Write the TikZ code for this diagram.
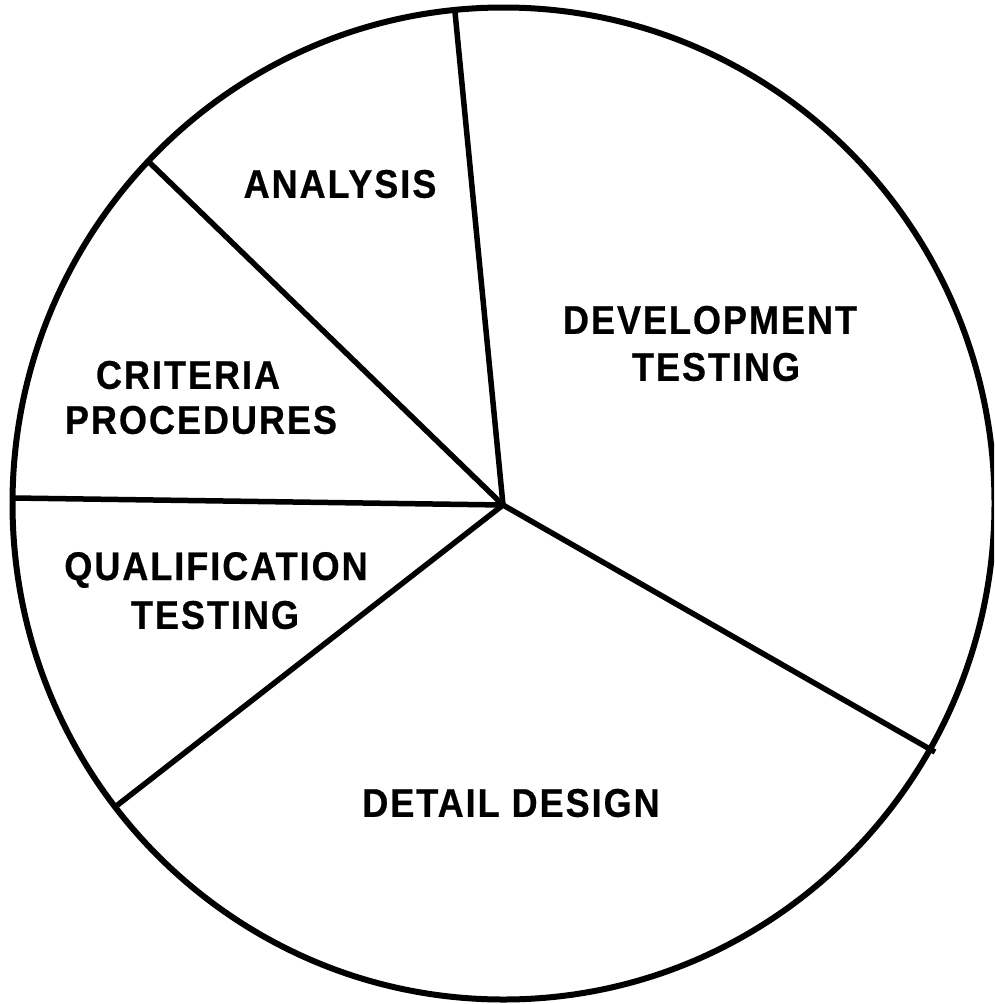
\documentclass[tikz,border=0pt]{standalone}
\usepackage{fontspec}
\setmainfont{Liberation Sans}
\newfontfamily\labelfont[FakeStretch=0.9,LetterSpace=5,FakeBold=0.6]{Liberation Sans Bold}
\begin{document}
\begin{tikzpicture}[x=1pt,y=-1pt,
  edge/.style={line width=5.5pt},
  rim/.style={line width=6pt},
  lbl/.style={font=\labelfont\fontsize{40}{46}\selectfont, inner sep=0pt}]
\useasboundingbox (0,0) rectangle (994,1004);
\clip (0,0) rectangle (994,1004);
\coordinate (c) at (503,505);
\coordinate (p1) at (455,12);
\coordinate (p2) at (150,163);
\coordinate (p3) at (14,498);
\coordinate (p4) at (115,807);
\coordinate (p5) at (935,752);
\draw[rim] (503.5,503.5) ellipse [x radius=491, y radius=496];
\draw[edge] (c) -- (p1);
\draw[edge] (c) -- (p2);
\draw[edge] (c) -- (p3);
\draw[edge] (c) -- (p4);
\draw[edge] (c) -- (p5);
\node[lbl] (analysis) at (340,184) {ANALYSIS};
\node[lbl] (dev1) at (710,320) {DEVELOPMENT};
\node[lbl] (dev2) at (716,367) {TESTING};
\node[lbl] (crit1) at (188,375) {CRITERIA};
\node[lbl] (crit2) at (201,420) {PROCEDURES};
\node[lbl] (qual1) at (216,570) {QUALIFICATION};
\node[lbl] (qual2) at (215,615) {TESTING};
\node[lbl] (detail) at (511,803) {DETAIL DESIGN};
\end{tikzpicture}
\end{document}
